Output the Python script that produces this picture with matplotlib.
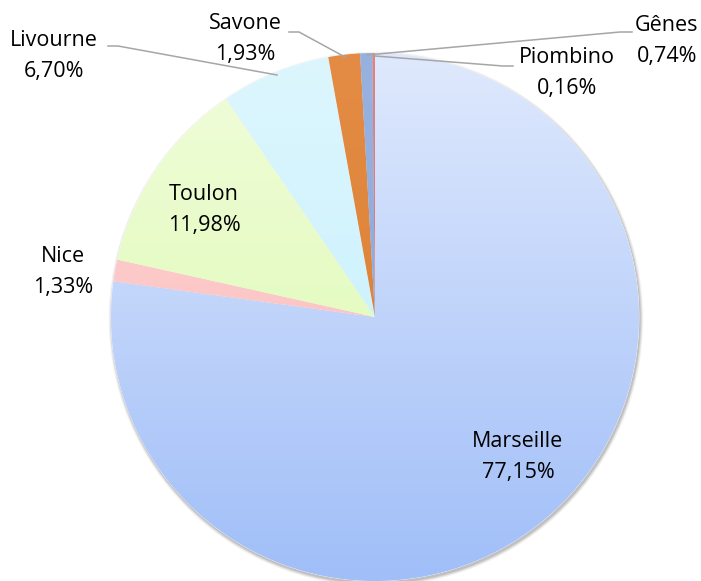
import numpy as np
import matplotlib.pyplot as plt
from matplotlib.colors import to_rgb

# Data (Excel order, clockwise from top)
ports = ['Marseille', 'Nice', 'Toulon', 'Livourne', 'Savone', 'Gênes', 'Piombino']
shares = [77.15, 1.33, 11.98, 6.70, 1.93, 0.74, 0.16]

# gradient colours (top of pie, bottom of pie)
top_colors = ['#dfe9fd', '#fdd6d6', '#f1fddb', '#ddf6fe', '#e48c45', '#98b2e0', '#da8686']
bot_colors = ['#a0bef8', '#fbb6b6', '#d8f9a9', '#c0effc', '#d87b2d', '#88a3d5', '#c96c6c']

W, H = 701, 581
fig = plt.figure(figsize=(W / 100, H / 100), dpi=100)
ax = fig.add_axes([0, 0, 1, 1])

cx, cy, r = 375, H - 317, 264

# soft shadow
for k, a in zip(range(6, 0, -1), [0.02, 0.03, 0.04, 0.05, 0.06, 0.07]):
    sh = plt.Circle((cx + 1, cy - 2), r + k * 0.6, color='black', alpha=a, lw=0, zorder=0)
    ax.add_patch(sh)

wedges, _ = ax.pie(shares, startangle=90, counterclock=False, center=(cx, cy), radius=r,
                   colors=top_colors, wedgeprops=dict(edgecolor='white', linewidth=0.4),
                   frame=True)
ax.set_xlim(0, W)
ax.set_ylim(0, H)
ax.set_aspect('equal')
ax.axis('off')

t = np.linspace(0, 1, 256)[:, None]
for w, c1, c2 in zip(wedges, top_colors, bot_colors):
    c1, c2 = np.array(to_rgb(c1)), np.array(to_rgb(c2))
    img = c1[None, None, :] * (1 - t[:, :, None]) + c2[None, None, :] * t[:, :, None]
    im = ax.imshow(img, extent=(cx - r, cx + r, cy - r, cy + r), origin='upper',
                   aspect='auto', zorder=w.get_zorder())
    im.set_clip_path(w)

# leader line colour
lc = '#a6a6a6'

def lab(name, val):
    return f"{name}\n{val:.2f}%".replace('.', ',')

# label centres (pixel coords, y from top)
label_xy = {
    'Marseille': (518, 457),
    'Nice': (63, 272),
    'Toulon': (204, 210),
    'Livourne': (54, 56),
    'Savone': (245, 39),
    'Gênes': (667, 41),
    'Piombino': (567, 73),
}
for name, val in zip(ports, shares):
    x, y = label_xy[name]
    ax.text(x, H - y, lab(name, val), ha='center', va='center', fontsize=15.5,
            family='Open Sans', linespacing=1.6, color='black', zorder=10)

# leader lines
leaders = [
    [(108, 46), (118, 46), (277, 75)],
    [(289, 32), (299, 32), (345, 57)],
    [(632, 32), (620, 32), (367, 55)],
    [(513, 66), (503, 66), (375, 56)],
]
for pts in leaders:
    xs = [p[0] for p in pts]
    ys = [H - p[1] for p in pts]
    ax.plot(xs, ys, color=lc, lw=1.1, zorder=9)

fig.savefig('out.png', dpi=100)
